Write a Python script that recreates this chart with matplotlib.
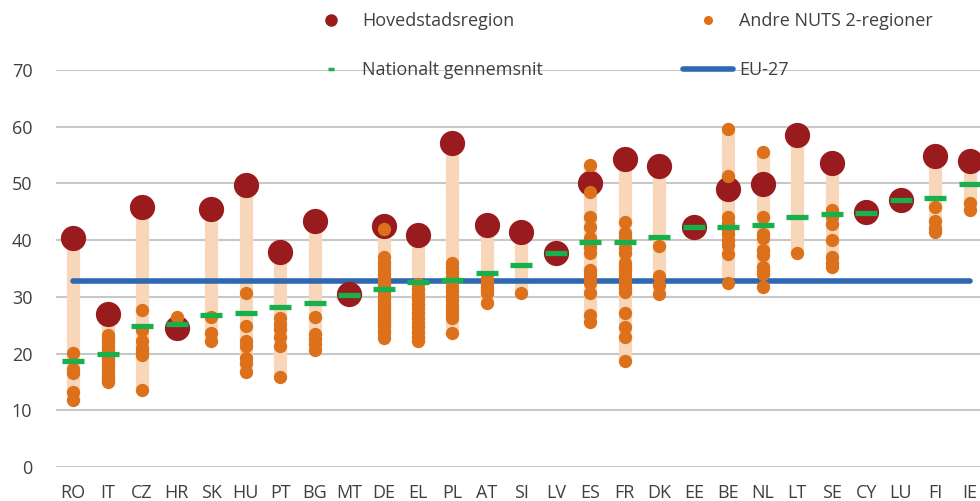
import matplotlib.pyplot as plt
from matplotlib.lines import Line2D

plt.rcParams['font.family'] = ['Open Sans', 'DejaVu Sans']

countries = ['RO', 'IT', 'CZ', 'HR', 'SK', 'HU', 'PT', 'BG', 'MT', 'DE', 'EL', 'PL', 'AT', 'SI',
             'LV', 'ES', 'FR', 'DK', 'EE', 'BE', 'NL', 'LT', 'SE', 'CY', 'LU', 'FI', 'IE']

# capital region values
capital = [40.3, 26.9, 45.9, 24.5, 45.5, 49.7, 37.9, 43.3, 30.5, 42.5, 40.9, 57.1, 42.6, 41.5,
           37.7, 50.1, 54.3, 53.1, 42.3, 49.1, 49.9, 58.6, 53.6, 44.9, 47.1, 54.9, 53.9]

# national average
national = [18.7, 20.0, 24.9, 25.2, 26.8, 27.1, 28.2, 29.0, 30.4, 31.3, 32.6, 32.9, 34.2, 35.7,
            37.7, 39.7, 39.6, 40.5, 42.3, 42.3, 42.6, 44.0, 44.6, 44.8, 47.0, 47.4, 49.9]

eu27 = 32.8

# other NUTS 2 regions
others = {
    'RO': [20.1, 17.3, 16.6, 13.3, 11.8],
    'IT': [23.3, 22.6, 22.0, 21.3, 20.8, 20.1, 19.5, 19.0, 18.4, 17.8, 17.2, 16.5, 15.9, 15.3, 15.0],
    'CZ': [27.7, 24.2, 22.3, 21.0, 20.2, 19.7, 13.6],
    'HR': [26.4],
    'SK': [26.5, 23.7, 22.3],
    'HU': [30.6, 24.9, 22.2, 21.4, 19.2, 18.4, 16.8],
    'PT': [26.2, 25.2, 24.4, 23.0, 21.3, 15.8],
    'BG': [26.4, 23.4, 22.6, 21.7, 20.7],
    'MT': [],
    'DE': [41.9, 37.1, 36.2, 35.5, 34.7, 34.0, 33.3, 32.6, 32.0, 31.4, 30.8, 30.2, 29.6, 29.0,
           28.4, 27.8, 27.2, 26.6, 26.0, 25.4, 24.8, 24.2, 23.6, 22.7],
    'EL': [32.2, 31.4, 30.5, 29.6, 28.8, 28.0, 27.1, 26.3, 25.4, 24.6, 23.8, 23.0, 22.2],
    'PL': [36.0, 35.1, 34.3, 33.5, 32.6, 31.8, 31.0, 30.2, 29.4, 28.6, 27.8, 27.0, 26.2, 23.6],
    'AT': [33.2, 32.5, 31.8, 31.2, 30.6, 29.0],
    'SI': [30.7],
    'LV': [],
    'ES': [53.3, 48.4, 44.1, 42.3, 40.3, 39.5, 38.8, 37.8, 34.8, 34.0, 33.3, 32.4, 30.6, 26.8, 25.6],
    'FR': [43.2, 41.3, 40.5, 39.6, 38.6, 37.7, 36.0, 35.3, 34.5, 33.7, 33.0, 32.2, 31.5, 30.9,
           27.1, 24.7, 23.0, 18.6],
    'DK': [38.9, 33.6, 32.1, 30.5],
    'EE': [],
    'BE': [59.6, 51.3, 44.1, 43.0, 42.0, 41.0, 40.0, 39.2, 37.6, 32.4],
    'NL': [55.6, 44.1, 41.0, 40.3, 38.2, 37.4, 35.3, 34.5, 34.0, 31.8],
    'LT': [37.8],
    'SE': [45.3, 44.0, 42.8, 40.0, 37.1, 36.0, 35.3],
    'CY': [],
    'LU': [],
    'FI': [45.8, 43.4, 42.2, 41.4],
    'IE': [46.5, 45.3],
}

c_cap = '#991B1E'
c_oth = '#DD711B'
c_nat = '#17B04C'
c_eu = '#2E68B1'
c_rng = '#F7D6B9'
c_txt = '#404040'

fig = plt.figure(figsize=(9.8, 5.01), dpi=100)
ax = fig.add_axes([0.0571, 0.0679, 0.950, 0.7924])

x = list(range(len(countries)))

# range bars
for i, c in enumerate(countries):
    vals = others[c] + [capital[i]]
    if len(vals) > 1:
        ax.vlines(i, min(vals), max(vals), color=c_rng, lw=9.5, zorder=2)

ax.plot([0, len(countries) - 1], [eu27, eu27], color=c_eu, lw=4, solid_capstyle='round', zorder=3)

ax.scatter(x, capital, s=330, color=c_cap, zorder=4, linewidths=0)
for i, c in enumerate(countries):
    if others[c]:
        ax.scatter([i] * len(others[c]), others[c], s=92, color=c_oth, zorder=5, linewidths=0)
ax.plot(x, national, ls='none', marker='_', ms=16, mew=3.8, color=c_nat, zorder=6)

ax.set_xlim(-0.5, 26.5)
ax.set_ylim(0, 70)
ax.set_yticks(range(0, 71, 10))
ax.set_xticks(x)
ax.set_xticklabels(countries)
ax.grid(axis='y', color='#C8C8C8', lw=1.5, zorder=0)
ax.set_axisbelow(True)
for s in ax.spines.values():
    s.set_visible(False)
ax.tick_params(length=0, labelsize=13, colors=c_txt)
ax.tick_params(axis='y', pad=17)
ax.tick_params(axis='x', pad=12)

handles = [
    Line2D([], [], ls='none', marker='o', ms=8, color=c_cap),
    Line2D([], [], ls='none', marker='_', ms=4.5, mew=2.5, color=c_nat),
    Line2D([], [], ls='none', marker='o', ms=5.5, color=c_oth),
    Line2D([], [], color=c_eu, lw=4, solid_capstyle='round'),
]
labels = ['Hovedstadsregion', 'Nationalt gennemsnit', 'Andre NUTS 2-regioner', 'EU-27']
leg = fig.legend(handles, labels, ncol=2, loc='upper left', bbox_to_anchor=(0.305, 0.99),
                 frameon=False, fontsize=13, handlelength=2.8, handletextpad=0.3,
                 labelspacing=1.72, columnspacing=7.75, borderaxespad=0)
for t in leg.get_texts():
    t.set_color(c_txt)

fig.savefig('out.png', dpi=100)
